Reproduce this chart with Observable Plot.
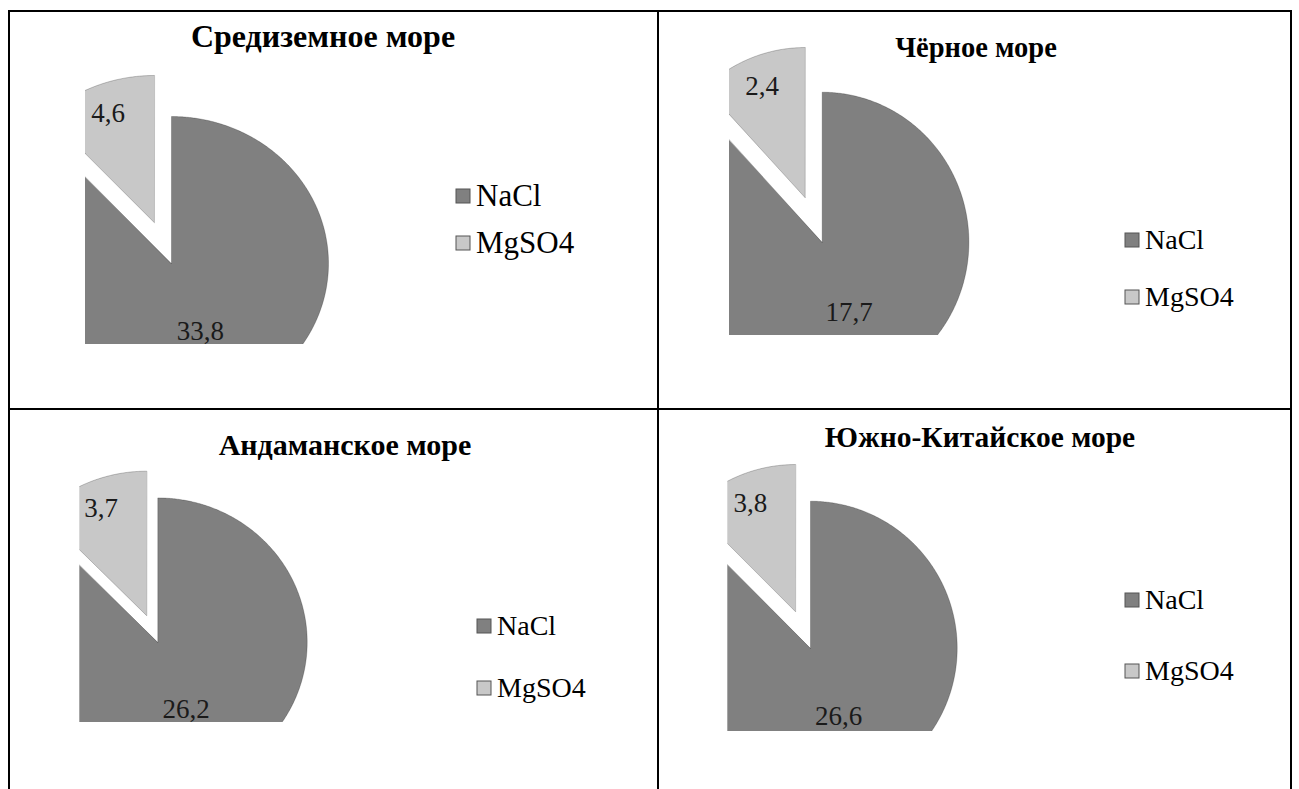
<!DOCTYPE html>
<html><head><meta charset="utf-8">
<script src="https://cdn.jsdelivr.net/npm/d3@7"></script>
<script src="https://cdn.jsdelivr.net/npm/@observablehq/plot@0.6"></script>
<style>
 body{margin:0;background:#fff;}
 #page{position:relative;width:1299px;height:789px;overflow:hidden;background:#fff;}
 .line{position:absolute;background:#000;}
 .cell{position:absolute;}
 .title{position:absolute;font-family:"Liberation Serif","Tinos","DejaVu Serif Condensed","DejaVu Serif",serif;font-weight:bold;white-space:nowrap;transform:translateX(-50%);line-height:1;color:#000;}
 .legendbox{position:absolute;width:200px;}
 .legendbox div{overflow:visible !important;text-overflow:clip !important;}
 .legendbox svg{margin-right:6px !important;}
 .legendbox svg rect{stroke:#555;stroke-width:1px;}
 .legendbox div[class$="-swatch"]{padding-bottom:var(--gap) !important;}
</style></head><body><div id="page"></div>
<script>
// ---- data ----
const seas = ["Средиземное море", "Чёрное море", "Андаманское море", "Южно-Китайское море"];
const components = ["NaCl", "MgSO4"];
const naclValues = [33.8, 17.7, 26.2, 26.6];
const mgso4Values = [4.6, 2.4, 3.7, 3.8];

// ---- styles ----
const sliceColors = ["#808080", "#c8c8c8"];
const serif = '"Liberation Serif", "Tinos", "DejaVu Serif Condensed", "DejaVu Serif", serif';

// ---- layout (page pixels) ----
const panels = [
  {cell:[10,12,647,396], cx:171, cy:263, rx:157, ry:147, clipLeft:85, clipBottom:344, explode:0.30,
   titleX:323, titleBase:47, titleSize:32, legX:456, legY:195.5, legStep:47, legSize:31},
  {cell:[659,12,631,396], cx:821.7, cy:241.7, rx:146.7, ry:150, clipLeft:729, clipBottom:335, explode:0.32,
   titleX:976, titleBase:58, titleSize:28.5, legX:1125, legY:240, legStep:57, legSize:28},
  {cell:[10,410,647,379], cx:157.3, cy:641.7, rx:149.4, ry:144.3, clipLeft:79.3, clipBottom:722, explode:0.20,
   titleX:345, titleBase:455, titleSize:30, legX:477, legY:626, legStep:62, legSize:28},
  {cell:[659,410,631,379], cx:810, cy:647.7, rx:146.7, ry:147, clipLeft:727.3, clipBottom:731, explode:0.27,
   titleX:980, titleBase:448, titleSize:29.5, legX:1125, legY:599.5, legStep:71.5, legSize:28}
];

const page = document.getElementById("page");
// grid lines
[[8,10,1284,2],[8,10,2,779],[657,10,2,779],[1290,10,2,779],[8,408,1284,2]].forEach(([l,t,w,h]) => {
  const d = document.createElement("div");
  d.className = "line";
  Object.assign(d.style, {left:l+"px", top:t+"px", width:w+"px", height:h+"px"});
  page.appendChild(d);
});

const fmt = d3.formatLocale({decimal: ",", thousands: " ", grouping: [3], currency: ["", ""]}).format(".1f");

panels.forEach((p, i) => {
  const [L, T, W, H] = p.cell;
  const rows = components.map((c, k) => ({component: c, value: k === 0 ? naclValues[i] : mgso4Values[i]}));
  const arcs = d3.pie().sort(null).value(d => d.value)(rows);
  const poly = [], labels = [];
  arcs.forEach((a, k) => {
    const mid = (a.startAngle + a.endAngle) / 2;
    const off = k === 1 ? p.explode : 0;
    const ox = off * Math.sin(mid), oy = off * Math.cos(mid);
    poly.push({slice: a.data.component, x: ox, y: oy});
    const n = Math.max(4, Math.ceil((a.endAngle - a.startAngle) / (Math.PI / 360)));
    for (let j = 0; j <= n; j++) {
      const t = a.startAngle + (a.endAngle - a.startAngle) * j / n;
      poly.push({slice: a.data.component, x: ox + Math.sin(t), y: oy + Math.cos(t)});
    }
    const lr = k === 0 ? 0.5 : 0.8;
    labels.push({text: fmt(a.data.value), x: ox + lr * Math.sin(mid), y: oy + lr * Math.cos(mid)});
  });

  const cxL = p.cx - L, cyL = p.cy - T;
  const marginLeft = p.clipLeft - L;
  const marginBottom = H - (p.clipBottom - T);
  const chart = Plot.plot({
    width: W, height: H,
    marginLeft, marginRight: 0, marginTop: 0, marginBottom,
    x: {domain: [(marginLeft - cxL) / p.rx, (W - cxL) / p.rx], axis: null},
    y: {domain: [(cyL - (H - marginBottom)) / p.ry, cyL / p.ry], axis: null},
    color: {domain: components, range: sliceColors},
    style: {background: "transparent", overflow: "visible"},
    marks: [
      Plot.line(poly, {x: "x", y: "y", z: "slice", fill: "slice", stroke: "#000", strokeOpacity: 0.22, strokeWidth: 1, curve: "linear-closed", clip: true}),
      Plot.text(labels, {x: "x", y: "y", text: "text", fontFamily: serif, fontSize: 27, fill: "#1a1a1a", clip: true})
    ]
  });
  const cell = document.createElement("div");
  cell.className = "cell";
  Object.assign(cell.style, {left: L + "px", top: T + "px", width: W + "px", height: H + "px"});
  cell.appendChild(chart);
  page.appendChild(cell);

  const title = document.createElement("div");
  title.className = "title";
  title.textContent = seas[i];
  Object.assign(title.style, {left: p.titleX + "px", top: (p.titleBase - 0.8375 * p.titleSize) + "px", fontSize: p.titleSize + "px"});
  page.appendChild(title);

  const lb = document.createElement("div");
  lb.className = "legendbox";
  const rowH = p.legSize;
  Object.assign(lb.style, {left: p.legX + "px", top: (p.legY - rowH / 2) + "px"});
  lb.style.setProperty("--gap", (p.legStep - rowH) + "px");
  lb.appendChild(Plot.legend({
    color: {type: "ordinal", domain: components, range: sliceColors},
    columns: 1, swatchSize: 14,
    style: {fontFamily: serif, fontSize: p.legSize + "px", lineHeight: rowH + "px", color: "#000", margin: 0}
  }));
  page.appendChild(lb);
});
</script></body></html>
